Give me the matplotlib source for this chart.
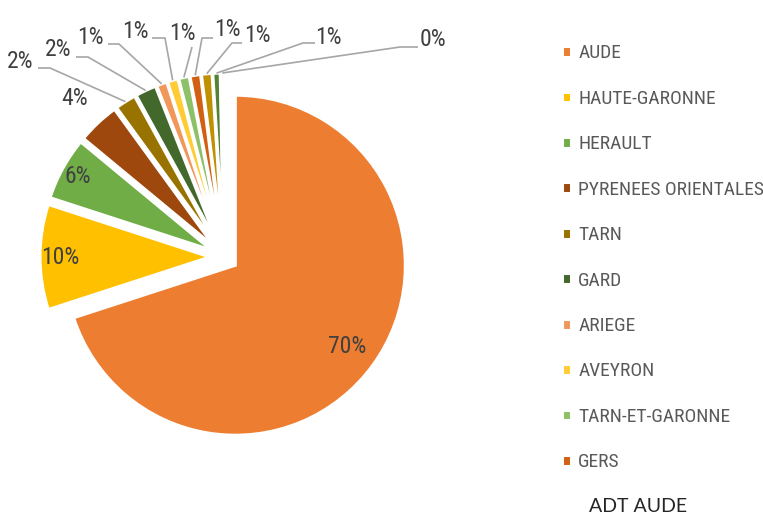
import numpy as np
import matplotlib.pyplot as plt

# Data
departments = ['AUDE', 'HAUTE-GARONNE', 'HERAULT', 'PYRENEES ORIENTALES', 'TARN', 'GARD',
               'ARIEGE', 'AVEYRON', 'TARN-ET-GARONNE', 'GERS', 'LOT', 'LOZERE',
               'HAUTES-PYRENEES']
shares = [70, 10, 6, 4, 2, 2, 1, 1, 1, 1, 1, 0.7, 0.3]
colors = ['#ED7D31', '#FFC000', '#70AD47', '#9E480E', '#997300', '#43682B',
          '#F1975A', '#FFCD33', '#8CC168', '#D26012', '#BF9000', '#548235', '#F4B183']
legend_count = 10
source = 'ADT AUDE'

W, H = 763, 515
FONT = dict(family=['Roboto Condensed', 'Liberation Sans Narrow', 'DejaVu Sans'],
            stretch='condensed')
LABEL_COLOR = '#404040'
LEGEND_COLOR = '#595959'
LINE_COLOR = '#A6A6A6'


def px(x, y):
    # pixel position (from top-left) -> data coords of the full-figure axes
    return x, H - y


fig = plt.figure(figsize=(W / 100, H / 100), dpi=100)
ax = fig.add_axes([0, 0, 1, 1])

R = 170
wedges, _ = ax.pie(shares, colors=colors, startangle=90, counterclock=False,
                   explode=[14] * len(shares), radius=R, center=px(224, 257),
                   wedgeprops=dict(edgecolor='white', linewidth=2.2), frame=True)
ax.set_xlim(0, W)
ax.set_ylim(0, H)
ax.set_aspect('equal')
ax.axis('off')

total = sum(shares)
labels = ['{:.0f}%'.format(v / total * 100) for v in shares]


def along(w, frac):
    mid = np.deg2rad((w.theta1 + w.theta2) / 2)
    return (w.center[0] + frac * w.r * np.cos(mid),
            w.center[1] + frac * w.r * np.sin(mid))


# labels inside the big slices, and the 4% just outside
inside = {0: 0.81, 1: 0.88, 2: 0.9, 3: 1.2}
for i, frac in inside.items():
    x, y = along(wedges[i], frac)
    ax.text(x, y, labels[i], ha='center', va='center', fontsize=17,
            color=LABEL_COLOR, **FONT)

# outside labels with leader lines: text centre, then line start / elbow (pixels)
outside = {
    4: ((20, 62), [(38, 68), (50, 68)]),
    5: ((58, 50), [(76, 57), (88, 57)]),
    6: ((90, 37), [(108, 44), (119, 44)]),
    7: ((135, 32), [(152, 38), (165, 38)]),
    8: ((182, 33), [(192, 47)]),
    9: ((227, 30), [(213, 38), (202, 38)]),
    10: ((257, 35), [(242, 43), (232, 43)]),
    11: ((328, 37), [(315, 43), (303, 43)]),
    12: ((433, 40), [(418, 47), (400, 47)]),
}
for i, (pos, pts) in outside.items():
    tx, ty = px(*pos)
    ax.text(tx, ty, labels[i], ha='center', va='center', fontsize=17,
            color=LABEL_COLOR, **FONT)
    path = [px(*p) for p in pts] + [along(wedges[i], 1.0)]
    xs, ys = zip(*path)
    ax.plot(xs, ys, color=LINE_COLOR, lw=1.2, solid_capstyle='butt')

leg = fig.legend(wedges[:legend_count], departments[:legend_count],
                 loc='upper left', bbox_to_anchor=(562 / W, 1 - 44.5 / H),
                 frameon=False, borderpad=0, borderaxespad=0,
                 handlelength=0.48, handleheight=0.48, handletextpad=0.36,
                 labelspacing=1.41, prop=dict(size=14, **FONT))
for t in leg.get_texts():
    t.set_color(LEGEND_COLOR)

fig.text(638 / W, 1 - 507 / H, source, ha='center', va='center', fontsize=14,
         family=['Lato', 'DejaVu Sans'], color='#262626')

fig.savefig('out.png', dpi=100)
